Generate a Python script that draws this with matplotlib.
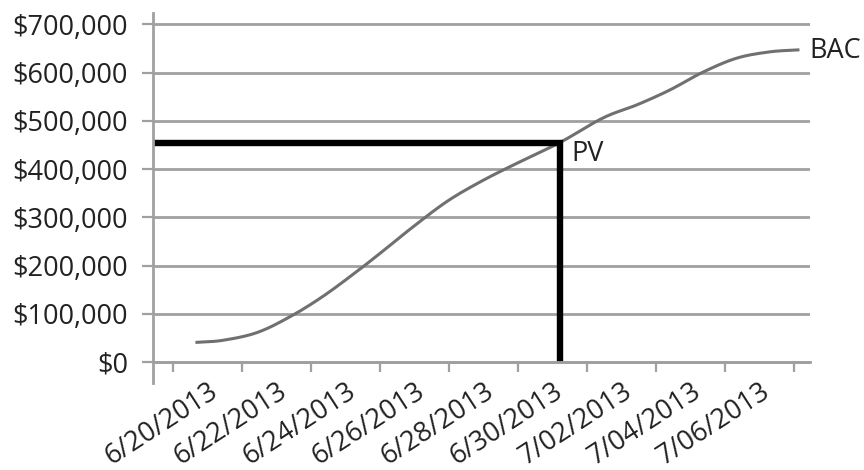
import numpy as np
import matplotlib
matplotlib.use('Agg')
import matplotlib.pyplot as plt

plt.rcParams['font.family'] = ['Open Sans', 'DejaVu Sans']

# cumulative planned value (days counted from 6/20/2013)
days = [-0.32, 0.43, 1.42, 2.38, 3.33, 4.32, 5.07, 5.94, 6.93, 7.88,
        8.84, 10.20, 11.45, 12.43, 13.39, 14.35, 15.33, 16.29, 17.10]
planned = [40800, 45000, 61000, 94000, 136000, 188000, 230000, 280000, 333000, 373000,
           408000, 455000, 506000, 533000, 564000, 601000, 630000, 643000, 647000]

pv_day = 10.2
pv_value = 455000

label_days = [0, 2, 4, 6, 8, 10, 12, 14, 16]
date_labels = ['6/20/2013', '6/22/2013', '6/24/2013', '6/26/2013', '6/28/2013',
               '6/30/2013', '7/02/2013', '7/04/2013', '7/06/2013']
tick_days = [-1, 1, 3, 5, 7, 9, 11, 13, 15, 17]
y_values = [0, 100000, 200000, 300000, 400000, 500000, 600000, 700000]

gray = '#a0a0a0'
text_col = '#222222'
fs = 19.5


def smooth_line(x, y, steps=12):
    # catmull-rom path through the points, like a "smoothed line" chart
    x = np.asarray(x, float)
    y = np.asarray(y, float)
    px = np.concatenate([[2 * x[0] - x[1]], x, [2 * x[-1] - x[-2]]])
    py = np.concatenate([[2 * y[0] - y[1]], y, [2 * y[-1] - y[-2]]])
    t = np.linspace(0, 1, steps, endpoint=False)
    xs, ys = [], []
    for i in range(1, len(px) - 2):
        for p, out in ((px, xs), (py, ys)):
            p0, p1, p2, p3 = p[i - 1], p[i], p[i + 1], p[i + 2]
            out.extend(0.5 * (2 * p1 + (p2 - p0) * t + (2 * p0 - 5 * p1 + 4 * p2 - p3) * t ** 2
                              + (3 * p1 - p0 - 3 * p2 + p3) * t ** 3))
    xs.append(x[-1])
    ys.append(y[-1])
    return xs, ys


fig = plt.figure(figsize=(8.64, 4.70), dpi=100)
ax = fig.add_axes([153 / 864, 1 - 383 / 470, (810 - 153) / 864, (383 - 13) / 470])

xmin, xmax = -1.594, 17.45
ax.set_xlim(xmin, xmax)
ax.set_ylim(-43500, 723500)

sx, sy = smooth_line(days, planned)
ax.plot(sx, sy, color='#707070', lw=2.2)
ax.plot([xmin, pv_day, pv_day], [pv_value, pv_value, 0], color='black', lw=4.6,
        solid_joinstyle='miter', solid_capstyle='butt')

ax.annotate('PV', (pv_day, pv_value), xytext=(8, 2), textcoords='offset points',
            fontsize=fs, color=text_col, ha='left', va='top')
ax.annotate('BAC', (days[-1], planned[-1]), xytext=(8, -1), textcoords='offset points',
            fontsize=fs, color=text_col, ha='left', va='center', annotation_clip=False)

ax.grid(axis='y', color=gray, lw=2)
ax.set_axisbelow(True)
for s in ['top', 'right']:
    ax.spines[s].set_visible(False)
ax.spines['bottom'].set_position(('data', 0))
for s in ['left', 'bottom']:
    ax.spines[s].set_color(gray)
    ax.spines[s].set_linewidth(2)

ax.set_yticks(y_values)
ax.set_yticklabels(['${:,}'.format(v) for v in y_values], fontsize=fs, color=text_col)
ax.tick_params(axis='y', direction='out', length=8, width=1.6, color=gray, pad=10)

ax.set_xticks(tick_days)
ax.set_xticklabels([])
ax.set_xticks(label_days, minor=True)
ax.set_xticklabels(date_labels, minor=True, fontsize=fs, color=text_col,
                   rotation=33, ha='right', rotation_mode='anchor')
ax.tick_params(axis='x', which='major', direction='out', length=7, width=1.6, color=gray)
ax.tick_params(axis='x', which='minor', length=0, pad=11)

fig.savefig('out.png', dpi=100)
